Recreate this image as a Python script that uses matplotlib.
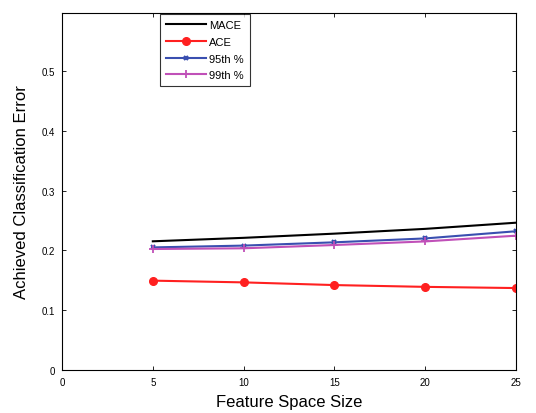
import matplotlib
matplotlib.use("Agg")
import matplotlib.pyplot as plt

plt.rcParams['font.family'] = ['Liberation Sans', 'DejaVu Sans']

# Feature space size
x = [5, 10, 15, 20, 25]
mace = [0.2152, 0.2210, 0.2280, 0.2360, 0.2463]
ace = [0.1494, 0.1465, 0.1420, 0.1390, 0.1370]
p95 = [0.2050, 0.2080, 0.2135, 0.2200, 0.2320]
p99 = [0.2023, 0.2035, 0.2090, 0.2150, 0.2246]

xticks = [0, 5, 10, 15, 20, 25]
yticks = [0, 0.1, 0.2, 0.3, 0.4, 0.5]
ytick_labels = ['0', '0.1', '0.2', '0.3', '0.4', '0.5']

fig = plt.figure(figsize=(5.36, 4.14), dpi=100)
ax = fig.add_axes([0.1157, 0.1039, 0.847, 0.8623])

ax.plot(x, mace, color='black', lw=1.5, label='MACE')
ax.plot(x, ace, color='#ff2020', lw=1.5, marker='o', markersize=5.5, label='ACE')
ax.plot(x, p95, color='#3a4fb0', lw=1.5, marker='x', markersize=3.5, mew=1.5, label='95th %')
ax.plot(x, p99, color='#c050b8', lw=1.5, marker='+', markersize=6, mew=1.3, label='99th %')

ax.set_xlim(0, 25)
ax.set_ylim(0, 0.597)
ax.set_xticks(xticks)
ax.set_xticklabels([str(t) for t in xticks])
ax.set_yticks(yticks)
ax.set_yticklabels(ytick_labels)
ax.tick_params(direction='in', top=True, right=True, labelsize=7, length=3, width=0.6, pad=5)
for s in ax.spines.values():
    s.set_linewidth(0.8)

ax.set_xlabel('Feature Space Size', fontsize=12, labelpad=5)
ax.set_ylabel('Achieved Classification Error', fontsize=12, labelpad=9)

leg = ax.legend(loc='upper left', bbox_to_anchor=(0.213, 1.0), fontsize=8,
                frameon=True, fancybox=False, edgecolor='black',
                handlelength=3.6, borderpad=0.55, labelspacing=0.6, handletextpad=0.3,
                borderaxespad=0.1)
leg.get_frame().set_linewidth(0.8)

fig.savefig('out.png', dpi=100)
